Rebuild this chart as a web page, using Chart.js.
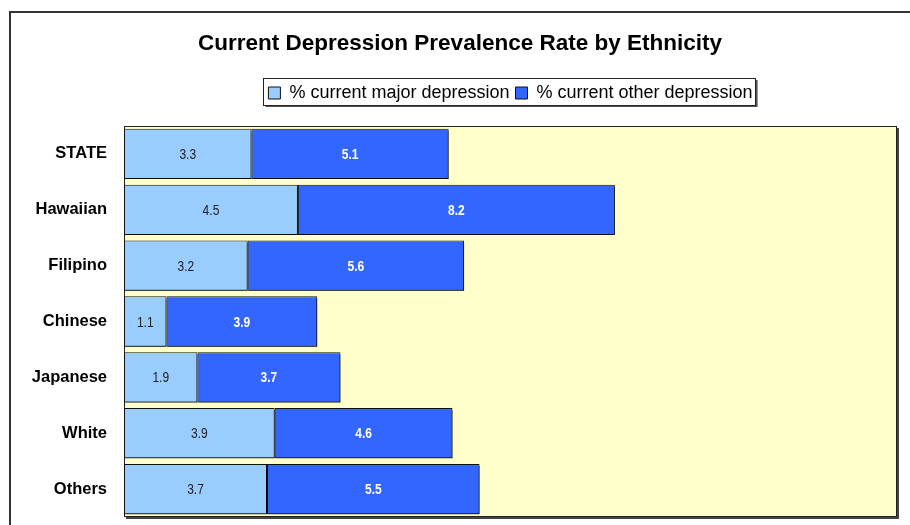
<!DOCTYPE html>
<html>
<head>
<meta charset="utf-8">
<script src="https://cdn.jsdelivr.net/npm/chart.js@4.4.1/dist/chart.umd.min.js"></script>
<style>
  html, body { margin: 0; padding: 0; background: #fff; overflow: hidden; }
  #frame { position: absolute; left: 9px; top: 11px; width: 1000px; height: 1000px; border: 2px solid #333; }
  #chart { position: absolute; left: 0; top: 0; }
</style>
</head>
<body>
<div id="frame"></div>
<canvas id="chart" width="910" height="525"></canvas>
<script>
// Prevalence (%) by ethnic group
const ethnicities = ['STATE', 'Hawaiian', 'Filipino', 'Chinese', 'Japanese', 'White', 'Others'];
const majorDepression = [3.3, 4.5, 3.2, 1.1, 1.9, 3.9, 3.7];
const otherDepression = [5.1, 8.2, 5.6, 3.9, 3.7, 4.6, 5.5];
const seriesNames = ['% current major depression', '% current other depression'];
const xMax = 20;

// yellow plot area with a dark drop shadow
const plotBackground = {
    id: 'plotBackground',
    beforeDraw(chart) {
        const { ctx, chartArea: a } = chart;
        ctx.save();
        ctx.fillStyle = '#444';
        ctx.fillRect(a.left + 2, a.top + 2, a.width, a.height);
        ctx.fillStyle = '#FFFFCC';
        ctx.fillRect(a.left, a.top, a.width, a.height);
        ctx.strokeStyle = '#222';
        ctx.lineWidth = 1;
        ctx.strokeRect(a.left + 0.5, a.top + 0.5, a.width - 1, a.height - 1);
        ctx.restore();
    }
};

// small shadow under every bar
const barShadow = {
    id: 'barShadow',
    beforeDatasetsDraw(chart) {
        const ctx = chart.ctx;
        ctx.save();
        ctx.shadowColor = 'rgba(0,0,0,0.6)';
        ctx.shadowOffsetX = 1;
        ctx.shadowOffsetY = 2;
        ctx.shadowBlur = 0;
    },
    afterDatasetsDraw(chart) {
        chart.ctx.restore();
    }
};

// value printed in the middle of each segment, in a narrow face
const segmentLabels = {
    id: 'segmentLabels',
    afterDatasetsDraw(chart) {
        const ctx = chart.ctx;
        chart.data.datasets.forEach((ds, di) => {
            const meta = chart.getDatasetMeta(di);
            meta.data.forEach((bar, i) => {
                ctx.save();
                ctx.translate((bar.x + bar.base) / 2, bar.y + 1);
                ctx.scale(0.8, 1);
                ctx.textAlign = 'center';
                ctx.textBaseline = 'middle';
                ctx.fillStyle = di === 0 ? '#222' : '#fff';
                ctx.font = (di === 0 ? '' : 'bold ') + '15px Arial, sans-serif';
                ctx.fillText(ds.data[i].toFixed(1), 0, 0);
                ctx.restore();
            });
        });
    }
};

// box around the legend entries
const legendFrame = {
    id: 'legendFrame',
    afterDraw(chart) {
        const boxes = chart.legend && chart.legend.legendHitBoxes;
        if (!boxes || !boxes.length) return;
        const left = Math.min(...boxes.map(b => b.left)) - 5;
        const right = Math.max(...boxes.map(b => b.left + b.width)) + 3;
        const top = boxes[0].top - 6;
        const bottom = boxes[0].top + boxes[0].height + 3;
        const ctx = chart.ctx;
        ctx.save();
        ctx.fillStyle = '#555';
        ctx.fillRect(left + 2, top + 2, right - left, bottom - top);
        ctx.fillStyle = '#fff';
        ctx.fillRect(left, top, right - left, bottom - top);
        ctx.strokeStyle = '#222';
        ctx.lineWidth = 1;
        ctx.strokeRect(Math.round(left) + 0.5, Math.round(top) + 0.5, Math.round(right - left), Math.round(bottom - top));
        ctx.restore();
        chart.legend.draw();
    }
};

new Chart(document.getElementById('chart'), {
    type: 'bar',
    data: {
        labels: ethnicities,
        datasets: [
            {
                label: seriesNames[0],
                data: majorDepression,
                backgroundColor: '#99CCFF',
                borderColor: '#111',
                borderWidth: 1,
                borderSkipped: false,
                barPercentage: 0.9,
                categoryPercentage: 1
            },
            {
                label: seriesNames[1],
                data: otherDepression,
                backgroundColor: '#3366FF',
                borderColor: '#111',
                borderWidth: 1,
                borderSkipped: false,
                barPercentage: 0.9,
                categoryPercentage: 1
            }
        ]
    },
    options: {
        indexAxis: 'y',
        responsive: false,
        animation: false,
        layout: { padding: { left: 23, right: 13, top: 0, bottom: 8 } },
        scales: {
            x: {
                stacked: true,
                min: 0,
                max: xMax,
                position: 'top',
                grid: { display: false, drawTicks: false },
                border: { display: false },
                ticks: { display: false },
                // empty strip between legend and plot
                afterFit(scale) { scale.height = 14; }
            },
            y: {
                stacked: true,
                grid: { display: false, drawTicks: false },
                border: { display: false },
                ticks: {
                    color: '#000',
                    padding: 17,
                    font: { family: 'Arial, sans-serif', size: 16.5, weight: 'bold' }
                },
                afterFit(scale) {
                    scale.width = 101;
                    scale.paddingTop = 0;
                    scale.paddingBottom = 0;
                }
            }
        },
        plugins: {
            title: {
                display: true,
                text: 'Current Depression Prevalence Rate by Ethnicity',
                color: '#000',
                font: { family: 'Arial, sans-serif', size: 22.5, weight: 'bold' },
                padding: { top: 30, bottom: 21 }
            },
            legend: {
                position: 'top',
                fullSize: false,
                labels: {
                    color: '#000',
                    boxWidth: 12,
                    boxHeight: 12,
                    padding: 6,
                    font: { family: 'Arial, sans-serif', size: 18 }
                }
            },
            tooltip: { enabled: false }
        }
    },
    plugins: [plotBackground, barShadow, segmentLabels, legendFrame]
});
</script>
</body>
</html>
